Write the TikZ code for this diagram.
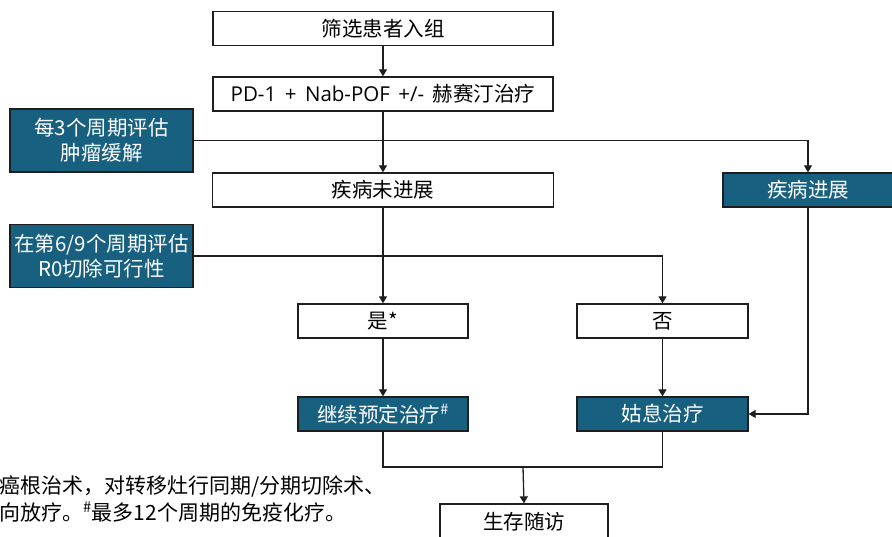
\documentclass[tikz,border=0pt]{standalone}
\usepackage{fontspec}
\setmainfont{Noto Sans CJK SC}
\newfontfamily\latfont[WordSpace={1.6}]{Open Sans}
\usetikzlibrary{arrows.meta}
\definecolor{dblue}{RGB}{24,96,128}
\definecolor{edge}{RGB}{30,30,30}
\tikzset{
  box/.style={draw=edge, line width=1.3pt, fill=white, inner sep=0pt, align=center,
    font=\fontsize{20.5}{25}\selectfont},
  bluebox/.style={box, fill=dblue, text=white},
  conn/.style={draw=edge, line width=1.3pt},
  arr/.style={conn, -{Triangle[width=8pt,length=7pt]}},
  note/.style={anchor=west, inner sep=0pt, font=\fontsize{21}{25}\selectfont}
}
\begin{document}
\begin{tikzpicture}[x=1pt,y=-1pt]
\useasboundingbox (0,0) rectangle (892,537);
\clip (0,0) rectangle (892,537);
% nodes
\node[box, minimum width=340pt, minimum height=34pt] (screen) at (383,28.5) {筛选患者入组};
\node[box, minimum width=340pt, minimum height=34pt] (treat) at (383,94) {{\latfont PD-1 + Nab-POF +/- }赫赛汀治疗};
\node[bluebox, minimum width=183pt, minimum height=63pt] (eval3) at (101.5,140.5) {每3个周期评估\\肿瘤缓解};
\node[box, minimum width=341pt, minimum height=34pt] (nonprog) at (383,190) {疾病未进展};
\node[bluebox, minimum width=170pt, minimum height=34pt] (prog) at (808,190) {疾病进展};
\node[bluebox, minimum width=183pt, minimum height=63pt] (eval69) at (101.5,256) {在第6/9个周期评估\\R0切除可行性};
\node[box, minimum width=170pt, minimum height=34pt] (yes) at (383,321) {是*};
\node[box, minimum width=171pt, minimum height=34pt] (no) at (662.5,321) {否};
\node[bluebox, minimum width=170pt, minimum height=34pt] (cont) at (383,414) {继续预定治疗\textsuperscript{\#}};
\node[bluebox, minimum width=171pt, minimum height=34pt] (pall) at (662.5,414) {姑息治疗};
\node[box, minimum width=168pt, minimum height=36pt] (fu) at (524,522) {生存随访};
\coordinate (j) at (523,467);
% footnote
\node[note] (fn1) at (-1,486) {癌根治术，对转移灶行同期/分期切除术、};
\node[note] (fn2) at (-1,512) {向放疗。\textsuperscript{\#}最多12个周期的免疫化疗。};
% connectors
\draw[arr] (screen) -- (treat);
\draw[arr] (treat) -- (nonprog);
\draw[arr] (eval3.east) -| (prog.north);
\draw[arr] (nonprog) -- (yes);
\draw[arr] (eval69.east) -| (no.north);
\draw[arr] (yes) -- (cont);
\draw[arr] (no) -- (pall);
\draw[arr] (prog.south) |- (pall.east);
\draw[conn] (cont.south) |- (pall.south |- j) -- (pall.south);
\draw[arr] (j) -- (fu.north);
\end{tikzpicture}
\end{document}
